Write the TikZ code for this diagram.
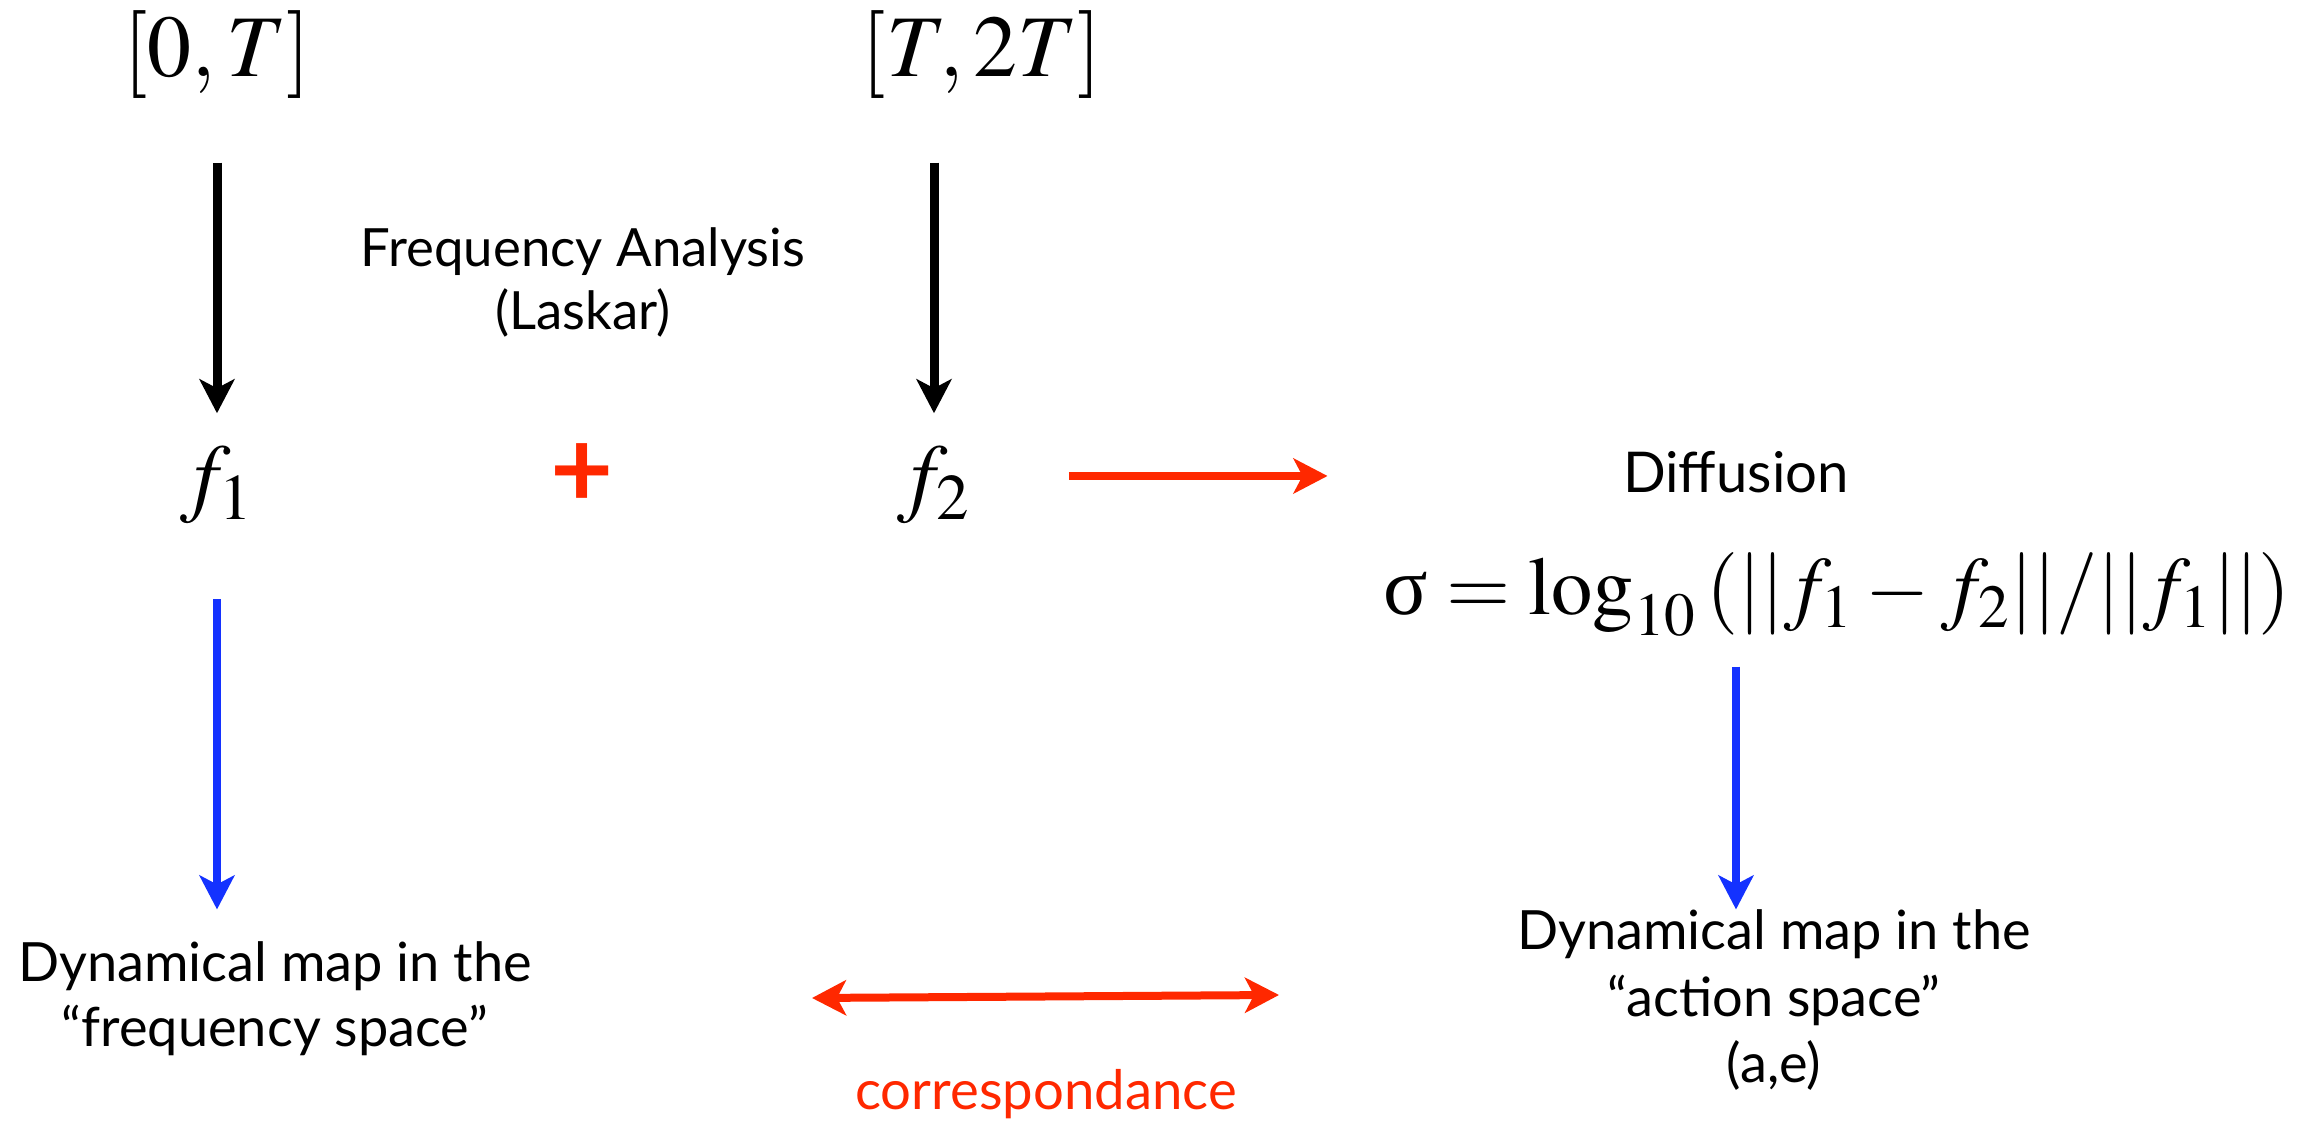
\documentclass[tikz,border=0pt]{standalone}
\usepackage{mathptmx}
\usepackage[no-math]{fontspec}
\setmainfont{Lato}
\newfontfamily\sigmafont{Liberation Serif}
\usetikzlibrary{arrows.meta}
\definecolor{myred}{RGB}{255,40,0}
\definecolor{myblue}{RGB}{20,50,255}
\begin{document}
\begin{tikzpicture}[x=0.1mm,y=-0.1mm,
  lbl/.style={inner sep=0pt, anchor=base, font=\fontsize{15.4}{18}\selectfont},
  mth/.style={inner sep=0pt, anchor=base, font=\fontsize{25}{30}\selectfont},
  tipst/.style={-{Stealth[length=3.4mm,width=3.5mm,inset=0.9mm]}},
  blkarr/.style={tipst, line width=0.9mm, black},
  redarr/.style={tipst, line width=0.8mm, myred},
  bluearr/.style={tipst, line width=0.8mm, myblue},
  dblarr/.style={{Stealth[length=3.4mm,width=3.5mm,inset=0.9mm]}-{Stealth[length=3.4mm,width=3.5mm,inset=0.9mm]}, line width=0.8mm, myred}
]
\useasboundingbox (0,0) rectangle (2316,1126);

\node[mth] (int1) at (217,77) {$[0,T]$};
\node[mth] (int2) at (982,77) {$[T,2T]$};
\node[mth] (f1) at (217,506) {$f_1$};
\node[mth] (f2) at (934,506) {$f_2$};
\node[inner sep=0pt, text=myred, font=\fontsize{31}{35}\selectfont\bfseries] (plus) at (582,476) {+};

\node[lbl, font=\fontsize{15}{18}\selectfont] (fa) at (583,267) {Frequency Analysis};
\node[lbl, font=\fontsize{15}{18}\selectfont] (la) at (583,330) {(Laskar)};

\node[lbl, font=\fontsize{16}{19}\selectfont] (diff) at (1736,493) {Diffusion};
\node[mth, font=\fontsize{23.5}{28}\selectfont] (sig) at (1837,615) {$\hbox{\sigmafont σ} = \log_{10}\,(||f_1-f_2||/||f_1||)$};

\node[lbl] (dm1a) at (275,982) {Dynamical map in the};
\node[lbl] (dm1b) at (275,1047) {“frequency space”};

\node[lbl] (dm2a) at (1774,950) {Dynamical map in the};
\node[lbl] (dm2b) at (1774,1017) {“action space”};
\node[lbl] (dm2c) at (1774,1083) {(a,e)};

\node[lbl, text=myred, font=\fontsize{15.5}{18}\selectfont] (corr) at (1046,1110) {correspondance};

\coordinate (cl) at (812,998);
\coordinate (cr) at (1279,995);

\draw[blkarr, shorten <=6.3mm, shorten >=3.3mm] (f1.north |- int1.south) -- (f1.north);
\draw[blkarr, shorten <=6.3mm, shorten >=3.3mm] (f2.north |- int2.south) -- (f2.north);
\draw[redarr, shorten <=9.7mm, shorten >=29.5mm] (plus -| f2.east) -- (plus -| diff.west);
\draw[bluearr, shorten <=7.4mm, shorten >=3.2mm] (f1.south) -- (f1.south |- dm1a.north);
\draw[bluearr, shorten <=2.9mm, shorten >=0mm] (diff.south |- sig.south) -- (diff.south |- dm2a.north);
\draw[dblarr] (cl) -- (cr);
\end{tikzpicture}
\end{document}
